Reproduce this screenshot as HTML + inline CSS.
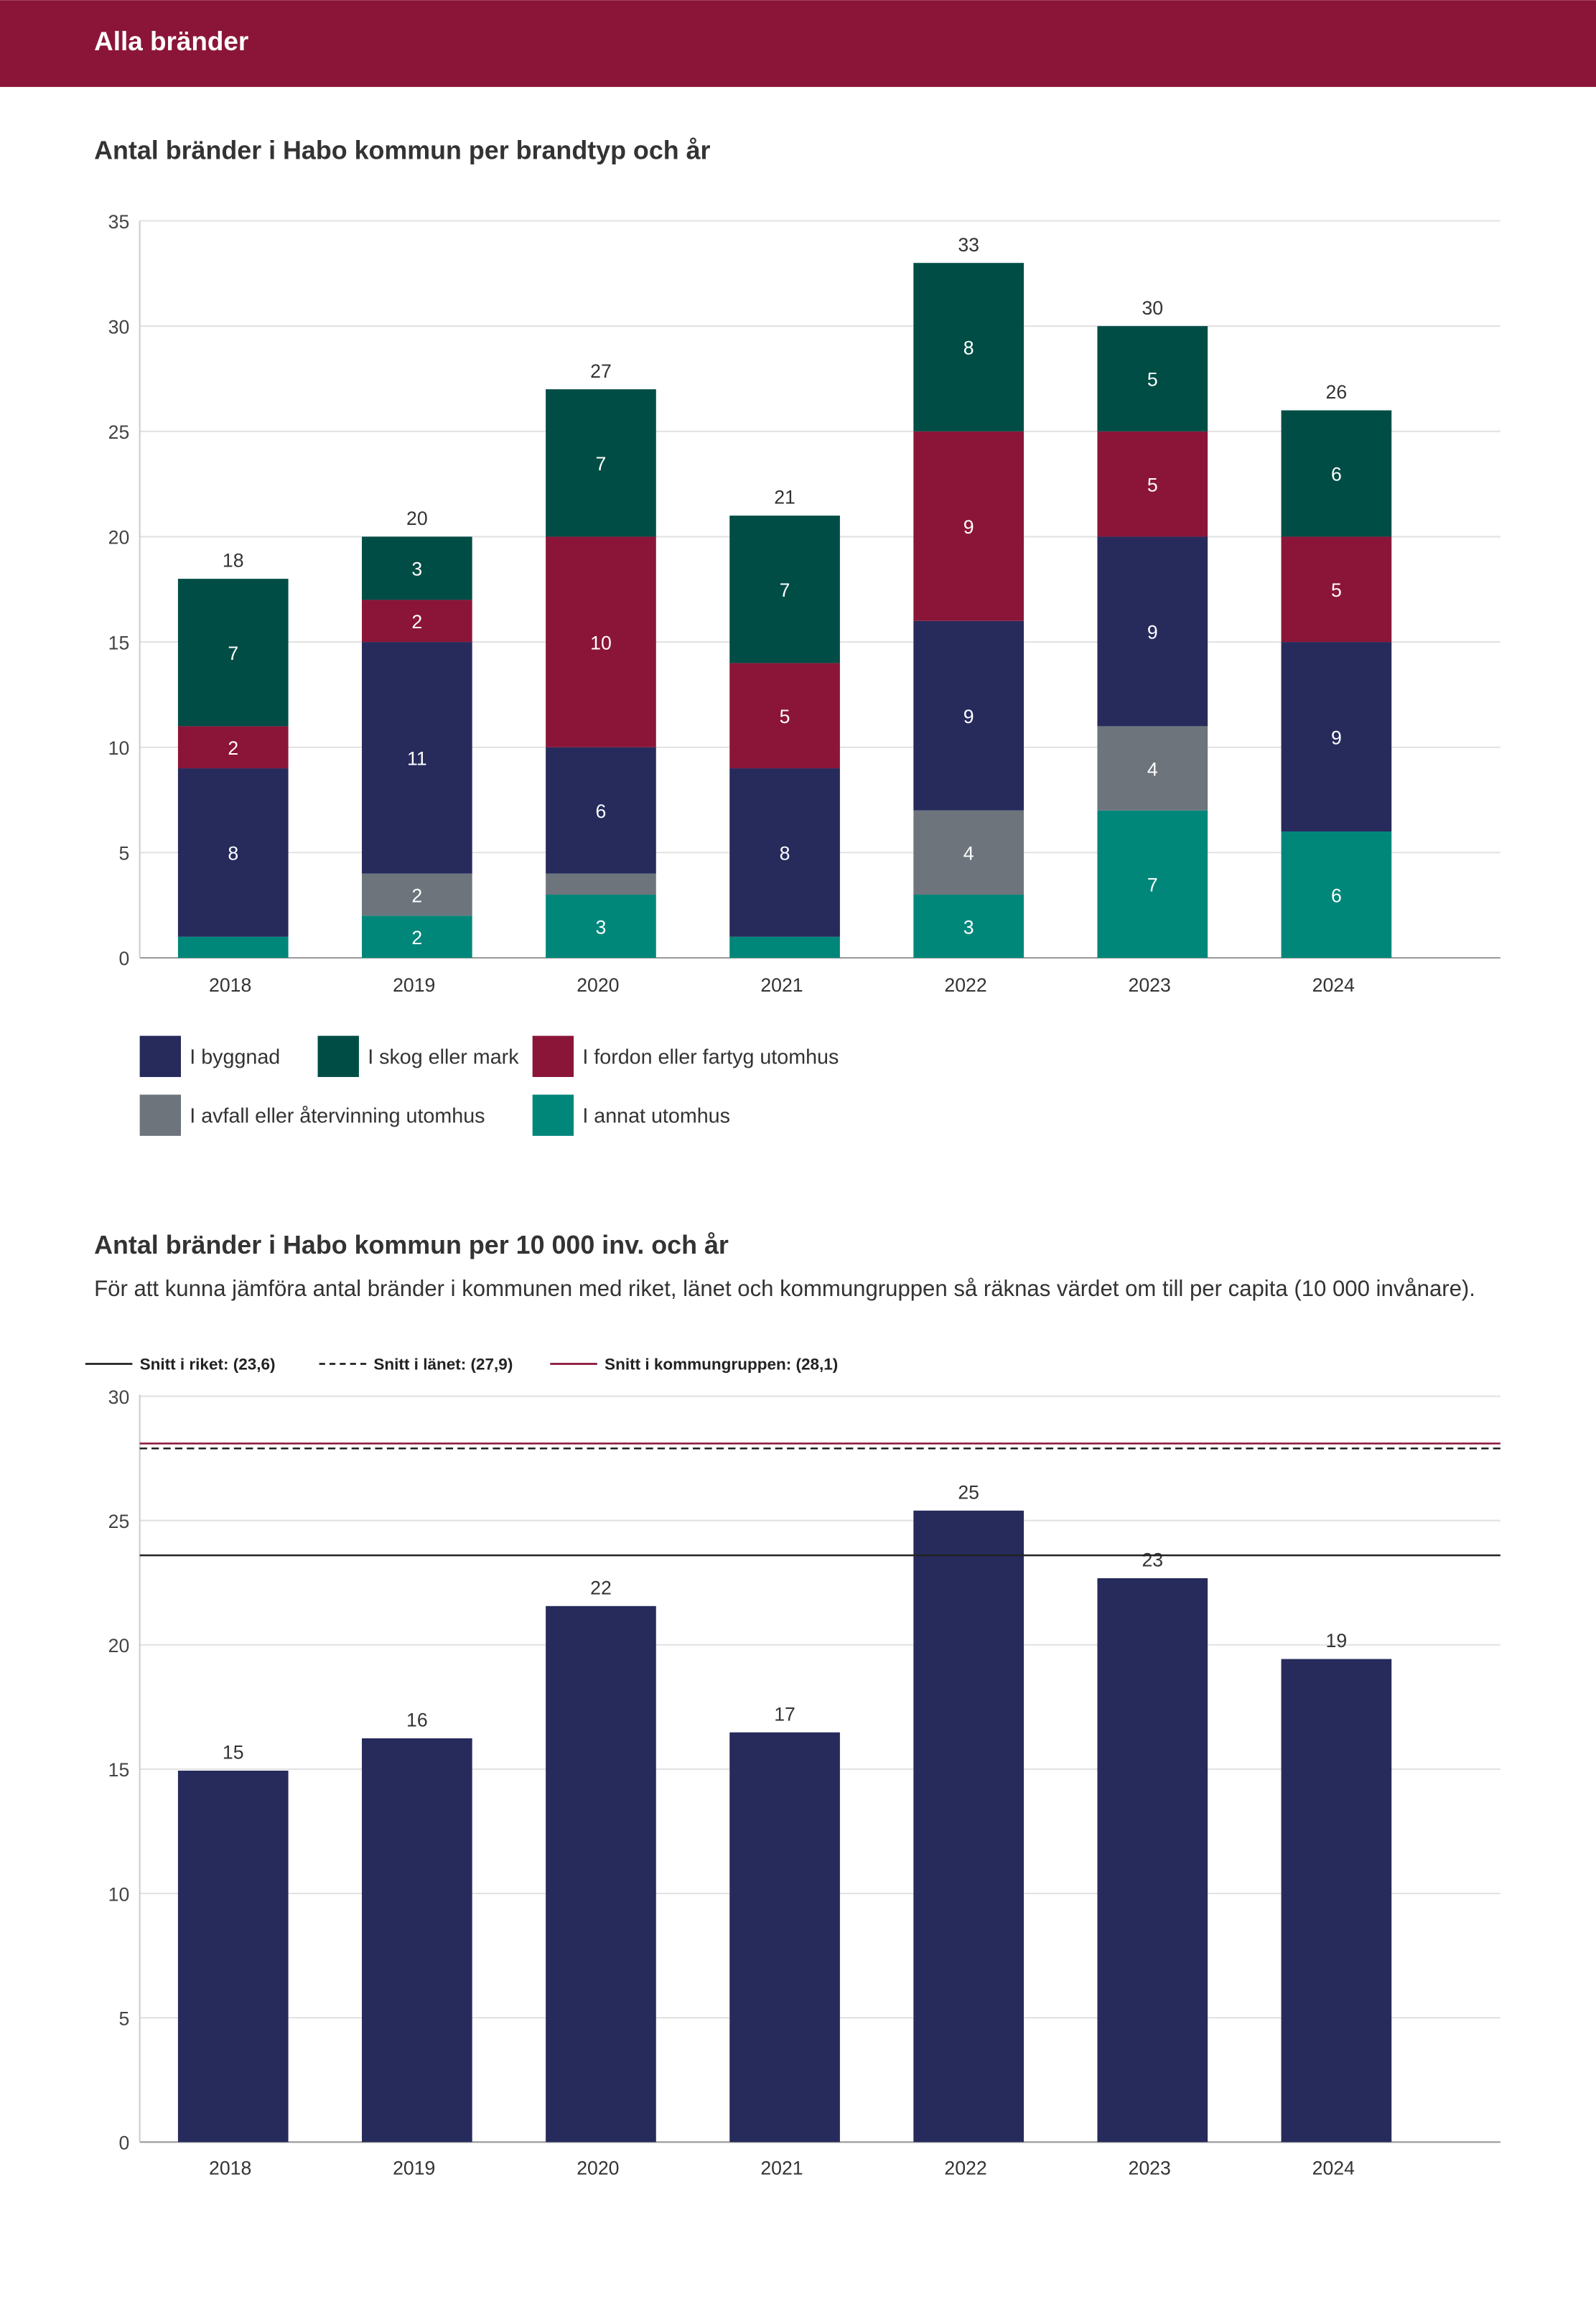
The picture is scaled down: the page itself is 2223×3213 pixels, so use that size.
<!DOCTYPE html>
<html><head><meta charset="utf-8">
<style>
html,body{margin:0;padding:0;background:#fff;}
svg{display:block;font-family:"Liberation Sans",sans-serif;}
</style></head>
<body>
<svg id="page" width="2223" height="3213" viewBox="0 0 1085 1568" xmlns="http://www.w3.org/2000/svg">
<rect x="0" y="0" width="1085" height="59" fill="#8b1538"/>
<text x="64" y="34" fill="#fff" font-size="18" font-weight="bold">Alla bränder</text>
<text x="64" y="108" fill="#333" font-size="17.5" font-weight="bold">Antal bränder i Habo kommun per brandtyp och år</text>
<g id="c1"></g>
<g id="leg1"></g>
<text x="64" y="852" fill="#333" font-size="17.5" font-weight="bold">Antal bränder i Habo kommun per 10 000 inv. och år</text>
<text x="64" y="881" fill="#333" font-size="15.2">För att kunna jämföra antal bränder i kommunen med riket, länet och kommungruppen så räknas värdet om till per capita (10 000 invånare).</text>
<g id="leg2"></g>
<g id="c2"></g>
</svg>
<script>
const years=["2018","2019","2020","2021","2022","2023","2024"];
const annat=[1,2,3,1,3,7,6];
const avfall=[0,2,1,0,4,4,0];
const byggnad=[8,11,6,8,9,9,9];
const fordon=[2,2,10,5,9,5,5];
const skog=[7,3,7,7,8,5,6];
const ticks1=[0,5,10,15,20,25,30,35];
const perCapita=[14.94,16.24,21.56,16.48,25.4,22.68,19.43];
const perCapitaLabels=["15","16","22","17","25","23","19"];
const ticks2=[0,5,10,15,20,25,30];
const refValues=[23.6,27.9,28.1];
const refLabels=["Snitt i riket: (23,6)","Snitt i länet: (27,9)","Snitt i kommungruppen: (28,1)"];

const NS="http://www.w3.org/2000/svg";
function mk(p,t,a,txt){const e=document.createElementNS(NS,t);for(const k in a)e.setAttribute(k,a[k]);if(txt!==undefined)e.textContent=txt;p.appendChild(e);return e;}
const X0=95,X1=1020,bw=75;
function xc(i){return 158.5+i*125;}

const c1=document.getElementById('c1');
const y1=v=>651-v*(501/35);
ticks1.forEach(t=>{
 const l=mk(c1,'line',{x1:X0,x2:X1,y1:y1(t),y2:y1(t),stroke:t?'#e2e2e2':'#999','stroke-width':1});
 
 
 const tx=mk(c1,'text',{x:88,y:y1(t)+5,'text-anchor':'end','font-size':13,fill:'#444'},t);
 
 
});
mk(c1,'line',{x1:X0,x2:X0,y1:150,y2:651,stroke:'#ccc'});
const series=[[annat,'#00877a'],[avfall,'#6d747c'],[byggnad,'#262b5c'],[fordon,'#8b1538'],[skog,'#004d45']];
years.forEach((yr,i)=>{
 let cum=0;
 series.forEach(([arr,col])=>{
  const v=arr[i];if(!v)return;
  const r=mk(c1,'rect',{x:xc(i)-bw/2,y:y1(cum+v),width:bw,height:y1(cum)-y1(cum+v),fill:col});
  
  
  if(v>=2){const t=mk(c1,'text',{x:xc(i),y:(y1(cum)+y1(cum+v))/2+5,'text-anchor':'middle','font-size':13,fill:'#fff'},v);
   
   }
  cum+=v;
 });
 const tt=mk(c1,'text',{x:xc(i),y:y1(cum)-8,'text-anchor':'middle','font-size':13,fill:'#333'},cum);
 
 
 const xl=mk(c1,'text',{x:xc(i)-2,y:674,'text-anchor':'middle','font-size':13,fill:'#333'},yr);
 
 
});
const leg1=document.getElementById('leg1');
[[95,704,'#262b5c','I byggnad'],[216,704,'#004d45','I skog eller mark'],[362,704,'#8b1538','I fordon eller fartyg utomhus'],[95,744,'#6d747c','I avfall eller återvinning utomhus'],[362,744,'#00877a','I annat utomhus']].forEach(([x,y,c,t])=>{
 const g=mk(leg1,'g',{});
 
 
 mk(g,'rect',{x:x,y:y,width:28,height:28,fill:c});
 mk(g,'text',{x:x+34,y:y+19,'font-size':14,fill:'#333'},t);
});
const leg2=document.getElementById('leg2');
[[58,'#222','none'],[217,'#222','4,3'],[374,'#8b1538','none']].forEach(([x,c,d],i)=>{
 const g=mk(leg2,'g',{});
 
 
 mk(g,'line',{x1:x,x2:x+32,y1:927,y2:927,stroke:c,'stroke-width':1.3,'stroke-dasharray':d});
 mk(g,'text',{x:x+37,y:931,'font-size':11,'font-weight':'bold',fill:'#222'},refLabels[i]);
});
const c2=document.getElementById('c2');
const y2=v=>1456-v*(507/30);
ticks2.forEach(t=>{
 const l=mk(c2,'line',{x1:X0,x2:X1,y1:y2(t),y2:y2(t),stroke:t?'#e2e2e2':'#999','stroke-width':1});
 
 
 const tx=mk(c2,'text',{x:88,y:y2(t)+5,'text-anchor':'end','font-size':13,fill:'#444'},t);
 
 
});
mk(c2,'line',{x1:X0,x2:X0,y1:948,y2:1456,stroke:'#ccc'});
years.forEach((yr,i)=>{
 const v=perCapita[i];
 const r=mk(c2,'rect',{x:xc(i)-bw/2,y:y2(v),width:bw,height:y2(0)-y2(v),fill:'#262b5c'});
 
 
 const t=mk(c2,'text',{x:xc(i),y:y2(v)-8,'text-anchor':'middle','font-size':13,fill:'#333'},perCapitaLabels[i]);
 
 
 const xl=mk(c2,'text',{x:xc(i)-2,y:1478,'text-anchor':'middle','font-size':13,fill:'#333'},yr);
 
 
});
[['#222','none'],['#222','5,3'],['#8b1538','none']].forEach(([c,d],i)=>{
 const l=mk(c2,'line',{x1:X0,x2:X1,y1:y2(refValues[i]),y2:y2(refValues[i]),stroke:c,'stroke-width':1.2,'stroke-dasharray':d});
 
 
});
</script>
</body></html>
